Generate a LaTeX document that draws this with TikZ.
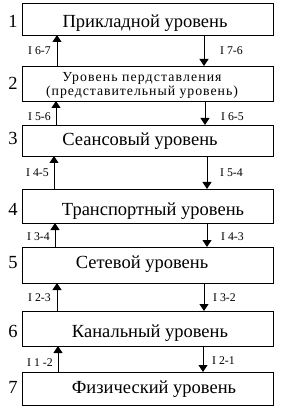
\documentclass[tikz,border=0pt]{standalone}
\usepackage{fontspec}
\setmainfont{Liberation Serif}
\usetikzlibrary{arrows.meta}
\begin{document}
\begin{tikzpicture}[x=1pt,y=-1pt,
  layer/.style={draw,line width=0.9pt,minimum width=251pt,inner sep=0pt,outer sep=0pt,anchor=north west},
  ltext/.style={anchor=base,inner sep=0pt,font=\fontsize{18.5}{20}\selectfont},
  num/.style={anchor=base,inner sep=0pt,font=\fontsize{18.5}{20}\selectfont},
  ifc/.style={inner sep=0pt,font=\fontsize{11.8}{12}\selectfont},
  flow/.style={line width=0.9pt,-{Triangle[width=9pt,length=7pt]}}]
\useasboundingbox (0,0) rectangle (287,419);
% boxes
\node[layer,minimum height=32pt] (b1) at (22,3) {};
\node[layer,minimum height=35pt] (b2) at (22,66) {};
\node[layer,minimum height=31pt] (b3) at (22,125) {};
\node[layer,minimum height=34pt] (b4) at (22,189) {};
\node[layer,minimum height=36pt] (b5) at (22,247) {};
\node[layer,minimum height=35pt] (b6) at (22,311) {};
\node[layer,minimum height=33pt] (b7) at (22,372) {};
% texts
\node[ltext] (t1) at (145,28) {Прикладной уровень};
\node[anchor=base,inner sep=0pt,font=\fontsize{13.8}{14}\addfontfeature{LetterSpace=8}\selectfont] (t2a) at (142,81.5) {Уровень пердставления};
\node[anchor=base,inner sep=0pt,font=\fontsize{13.8}{14}\addfontfeature{LetterSpace=7}\selectfont] (t2b) at (142,96) {(представительный уровень)};
\node[ltext] (t3) at (140,146) {Сеансовый уровень};
\node[ltext] (t4) at (153,215) {Транспортный уровень};
\node[ltext] (t5) at (142,268) {Сетевой уровень};
\node[ltext] (t6) at (150,337) {Канальный уровень};
\node[ltext] (t7) at (154,393) {Физический уровень};
% numbers
\node[num] (n1) at (13,28) {1};
\node[num] (n2) at (13,90) {2};
\node[num] (n3) at (13,145) {3};
\node[num] (n4) at (13,215) {4};
\node[num] (n5) at (13,268) {5};
\node[num] (n6) at (13,337) {6};
\node[num] (n7) at (13,393) {7};
% arrows up
\draw[flow] (b2.north -| 57,0) -- (b1.south -| 57,0);
\draw[flow] (b3.north -| 56,0) -- (b2.south -| 56,0);
\draw[flow] (b4.north -| 54,0) -- (b3.south -| 54,0);
\draw[flow] (b5.north -| 55,0) -- (b4.south -| 55,0);
\draw[flow] (b6.north -| 57,0) -- (b5.south -| 57,0);
\draw[flow] (b7.north -| 58,0) -- (b6.south -| 58,0);
% arrows down
\draw[flow] (b1.south -| 204,0) -- (b2.north -| 204,0);
\draw[flow] (b2.south -| 205,0) -- (b3.north -| 205,0);
\draw[flow] (b3.south -| 207,0) -- (b4.north -| 207,0);
\draw[flow] (b4.south -| 207,0) -- (b5.north -| 207,0);
\draw[flow] (b5.south -| 204,0) -- (b6.north -| 204,0);
\draw[flow] (b6.south -| 203,0) -- (b7.north -| 203,0);
% interface labels
\node[ifc,anchor=base east] (l1) at (51,55) {I 6-7};
\node[ifc,anchor=base west] (r1) at (220,55) {I 7-6};
\node[ifc,anchor=base east] (l2) at (51,121) {I 5-6};
\node[ifc,anchor=base west] (r2) at (221,121) {I 6-5};
\node[ifc,anchor=base east] (l3) at (49,177) {I 4-5};
\node[ifc,anchor=base west] (r3) at (220,177) {I 5-4};
\node[ifc,anchor=base east] (l4) at (50,240) {I 3-4};
\node[ifc,anchor=base west] (r4) at (221,240) {I 4-3};
\node[ifc,anchor=base east] (l5) at (51,301) {I 2-3};
\node[ifc,anchor=base west] (r5) at (213,301) {I 3-2};
\node[ifc,anchor=base east] (l6) at (53,366) {I 1 -2};
\node[ifc,anchor=base west] (r6) at (212,364) {I 2-1};
\end{tikzpicture}
\end{document}
